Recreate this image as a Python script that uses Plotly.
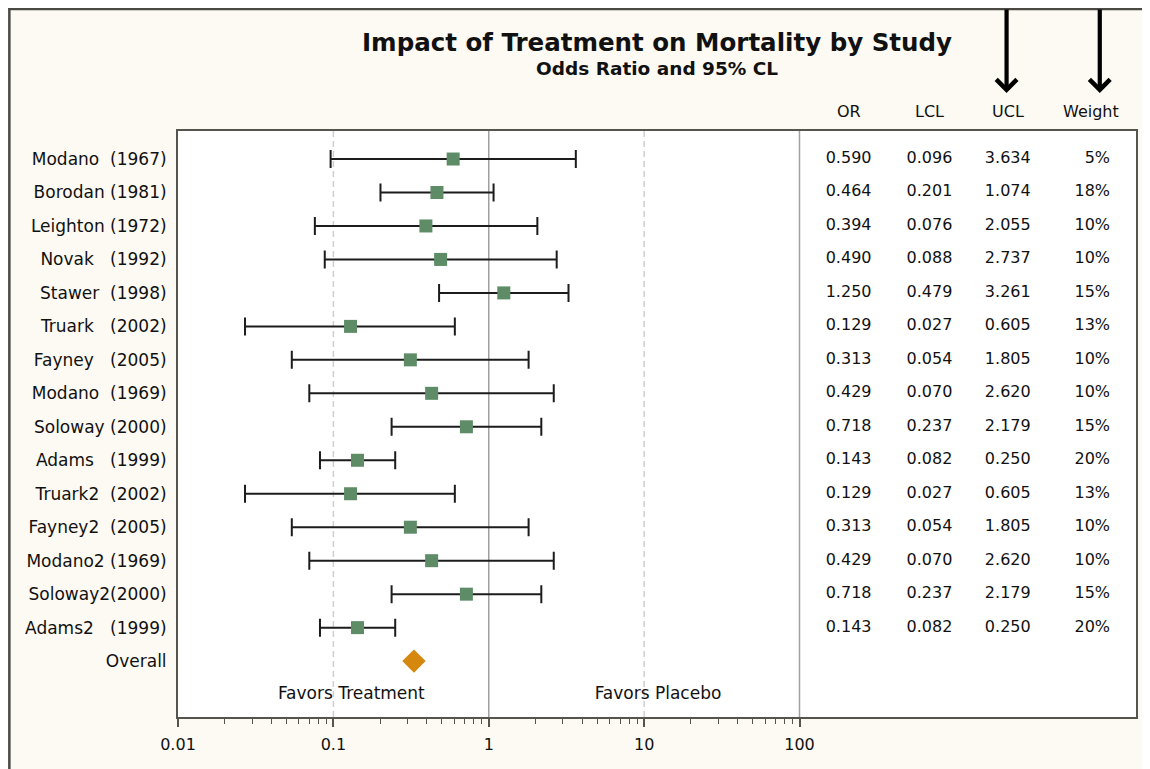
import plotly.graph_objects as go

# ---------------- data ----------------
NB = "\u00a0"
study_names = ["Modano", "Borodan", "Leighton", "Novak", "Stawer", "Truark", "Fayney",
               "Modano", "Soloway", "Adams", "Truark2", "Fayney2", "Modano2", "Soloway2", "Adams2"]
study_years = ["1967", "1981", "1972", "1992", "1998", "2002", "2005",
               "1969", "2000", "1999", "2002", "2005", "1969", "2000", "1999"]
name_gaps = [2, 1, 1, 3, 2, 3, 3, 2, 1, 3, 2, 2, 1, 0, 3]
odds_ratio = [0.590, 0.464, 0.394, 0.490, 1.250, 0.129, 0.313, 0.429, 0.718, 0.143,
              0.129, 0.313, 0.429, 0.718, 0.143]
lcl = [0.096, 0.201, 0.076, 0.088, 0.479, 0.027, 0.054, 0.070, 0.237, 0.082,
       0.027, 0.054, 0.070, 0.237, 0.082]
ucl = [3.634, 1.074, 2.055, 2.737, 3.261, 0.605, 1.805, 2.620, 2.179, 0.250,
       0.605, 1.805, 2.620, 2.179, 0.250]
weight_pct = [5, 18, 10, 10, 15, 13, 10, 10, 15, 20, 13, 10, 10, 15, 20]
overall_label = "Overall"
overall_or = 0.33
favors_labels = ["Favors Treatment", "Favors Placebo"]
table_headers = ["OR", "LCL", "UCL", "Weight"]
x_tick_vals = [0.01, 0.1, 1, 10, 100]
x_tick_text = ["0.01", "0.1", "1", "10", "100"]
ref_lines_dashed = [0.1, 10]
ref_lines_solid = [1, 100]

# ---------------- layout geometry ----------------
OFF = 8                      # page offset of the figure (body margin)
W, H = 1142, 761
ML, MR, MT, MB = 170, 12, 123, 52
PW, PH = W - ML - MR, H - MT - MB
FONT = "DejaVu Sans"
TXT = "#111111"
CREAM = "#fdfaf3"


def px_x(p):   # page pixel -> paper x
    return (p - OFF - ML) / PW


def px_y(p):   # page pixel -> paper y
    return (H - MB - (p - OFF)) / PH


n = len(study_names)
rows = list(range(n))
overall_row = n
favors_row = n + 1
y_top, y_bot = -0.837, 16.67

labels = [nm + NB * g + "(" + yr + ")" for nm, yr, g in zip(study_names, study_years, name_gaps)]

fig = go.Figure()

# reference lines
for v in ref_lines_dashed:
    fig.add_trace(go.Scatter(x=[v, v], y=[y_top, y_bot], mode="lines",
                             line=dict(color="#cfcfcf", width=1.5, dash="6px,4px"),
                             hoverinfo="skip", showlegend=False))
for v in ref_lines_solid:
    fig.add_trace(go.Scatter(x=[v, v], y=[y_top, y_bot], mode="lines",
                             line=dict(color="#a0a0a0", width=1.5),
                             hoverinfo="skip", showlegend=False))

# study estimates with CIs
fig.add_trace(go.Scatter(
    x=odds_ratio, y=rows, mode="markers",
    marker=dict(symbol="square", size=13, color="#5e8c66", line=dict(width=0)),
    error_x=dict(type="data", symmetric=False,
                 array=[u - o for u, o in zip(ucl, odds_ratio)],
                 arrayminus=[o - l for o, l in zip(odds_ratio, lcl)],
                 color="#1c1c1c", thickness=2, width=9),
    showlegend=False))

# overall diamond
fig.add_trace(go.Scatter(x=[overall_or], y=[overall_row], mode="markers",
                         marker=dict(symbol="diamond", size=18, color="#d6870e", line=dict(width=0)),
                         showlegend=False))

# table columns (on an overlay linear axis spanning the plot width)
col_x = [px_x(850), px_x(931), px_x(1009.5)]
for cx, vals in zip(col_x, [odds_ratio, lcl, ucl]):
    fig.add_trace(go.Scatter(x=[cx] * n, y=rows, mode="text", xaxis="x2",
                             text=[f"{v:.3f}" for v in vals],
                             textfont=dict(family=FONT, size=16, color=TXT),
                             textposition="middle center", showlegend=False))
fig.add_trace(go.Scatter(x=[px_x(1112)] * n, y=rows, mode="text", xaxis="x2",
                         text=[f"{w}%" for w in weight_pct],
                         textfont=dict(family=FONT, size=16, color=TXT),
                         textposition="middle left", showlegend=False))

# favors labels
fig.add_trace(go.Scatter(x=[px_x(351.7), px_x(659)], y=[favors_row, favors_row], mode="text",
                         xaxis="x2", text=favors_labels,
                         textfont=dict(family=FONT, size=17, color=TXT),
                         textposition="middle center", showlegend=False))

minor_vals = [m * 10 ** k for k in range(-2, 2) for m in range(2, 10)]

annotations = []
head_x = [850.5, 931.5, 1010, 1092.5]
for hx, ht in zip(head_x, table_headers):
    annotations.append(dict(x=px_x(hx), y=px_y(111.5), xref="paper", yref="paper", text=ht,
                            showarrow=False, xanchor="center", yanchor="middle",
                            font=dict(family=FONT, size=16, color=TXT)))
annotations.append(dict(x=0.5, y=px_y(68.5), xref="paper", yref="paper",
                        text="<b>Odds Ratio and 95% CL</b>", showarrow=False,
                        xanchor="center", yanchor="middle",
                        font=dict(family=FONT, size=18.5, color=TXT)))
for ax_px in [1008.3, 1101.7]:
    annotations.append(dict(x=px_x(ax_px), y=px_y(93), xref="paper", yref="paper", text="",
                            showarrow=True, ax=0, ay=-95, arrowhead=4, arrowwidth=4.2,
                            arrowsize=0.95, arrowcolor="#000000"))

shapes = [
    dict(type="line", xref="paper", yref="paper", x0=px_x(8), x1=px_x(1150), y0=px_y(9), y1=px_y(9),
         line=dict(color="#4a4942", width=2.5)),
    dict(type="line", xref="paper", yref="paper", x0=px_x(9), x1=px_x(9), y0=px_y(8), y1=px_y(769),
         line=dict(color="#4a4942", width=2.5)),
]

fig.update_layout(
    width=W, height=H,
    margin=dict(l=ML, r=MR, t=MT, b=MB, pad=0),
    paper_bgcolor=CREAM, plot_bgcolor="white",
    font=dict(family=FONT, size=16, color=TXT),
    title=dict(text="<b>Impact of Treatment on Mortality by Study</b>", x=0.5, xref="paper",
               xanchor="center", y=1 - (42.5 - OFF) / H, yanchor="middle",
               font=dict(family=FONT, size=24.5, color=TXT)),
    xaxis=dict(type="log", range=[-2, -2 + PW / 155.7], tickvals=x_tick_vals, ticktext=x_tick_text,
               ticks="outside", ticklen=8, tickwidth=1.5, tickcolor="#57544d",
               minor=dict(tickvals=minor_vals, ticks="outside", ticklen=5, tickwidth=1.2,
                          tickcolor="#57544d", showgrid=False),
               showgrid=False, showline=True, linecolor="#57544d", linewidth=2, mirror=True,
               ticklabelstandoff=4,
               tickfont=dict(family=FONT, size=16, color=TXT)),
    xaxis2=dict(overlaying="x", range=[0, 1], visible=False, showgrid=False),
    yaxis=dict(range=[y_bot, y_top], tickvals=rows + [overall_row], ticktext=labels + [overall_label],
               ticks="", showgrid=False, zeroline=False, showline=True, linecolor="#57544d",
               linewidth=2, mirror=True, ticklabelstandoff=6,
               tickfont=dict(family=FONT, size=17, color=TXT)),
    annotations=annotations,
    shapes=shapes,
    showlegend=False,
)

fig.write_html("out.html")
